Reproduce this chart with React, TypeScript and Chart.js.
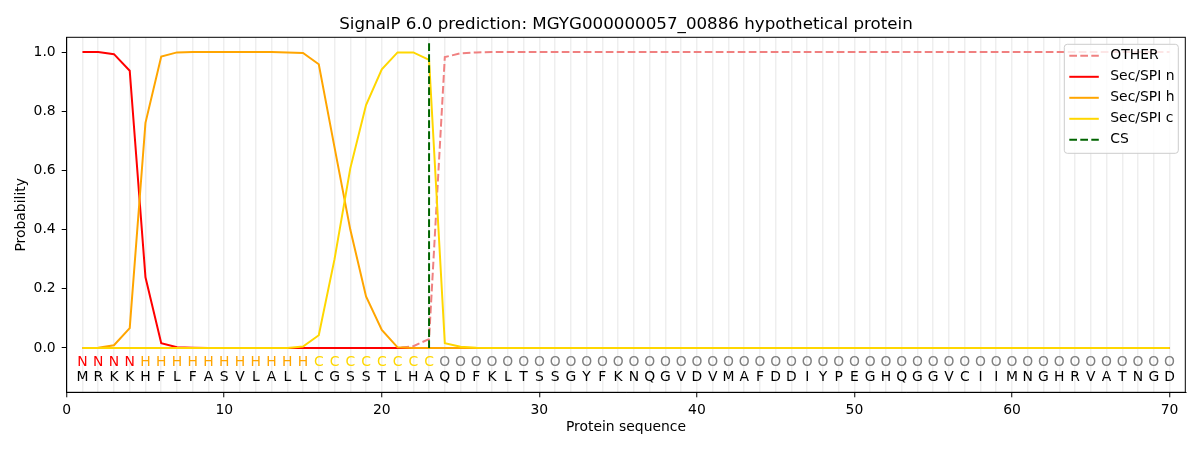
import { useEffect, useRef } from 'react';
import { Chart, registerables } from 'chart.js';

Chart.register(...registerables);

// protein sequence and per-residue predicted labels
const sequence = 'MRKKHFLFASVLALLCGSSTLHAQDFKLTSSGYFKNQGVDVMAFDDIYPEGHQGGVCIIMNGHRVATNGD'.split('');
const predicted = 'NNNNHHHHHHHHHHHCCCCCCCCOOOOOOOOOOOOOOOOOOOOOOOOOOOOOOOOOOOOOOOOOOOOOOO'.split('');
const positions = sequence.map((_, i) => i + 1);

const otherProb = [
  0, 0, 0, 0, 0, 0, 0, 0, 0, 0,
  0, 0, 0, 0, 0, 0, 0, 0, 0, 0,
  0, 0.006, 0.03, 0.983, 0.996, 0.999, 1, 1, 1, 1,
  1, 1, 1, 1, 1, 1, 1, 1, 1, 1,
  1, 1, 1, 1, 1, 1, 1, 1, 1, 1,
  1, 1, 1, 1, 1, 1, 1, 1, 1, 1,
  1, 1, 1, 1, 1, 1, 1, 1, 1, 1,
];
const nProb = [
  1.0, 1.0, 0.993, 0.937, 0.239, 0.016, 0.002, 0.001, 0, 0,
  0, 0, 0, 0, 0, 0, 0, 0, 0, 0,
  0, 0, 0, 0, 0, 0, 0, 0, 0, 0,
  0, 0, 0, 0, 0, 0, 0, 0, 0, 0,
  0, 0, 0, 0, 0, 0, 0, 0, 0, 0,
  0, 0, 0, 0, 0, 0, 0, 0, 0, 0,
  0, 0, 0, 0, 0, 0, 0, 0, 0, 0,
];
const hProb = [
  0, 0.001, 0.009, 0.067, 0.761, 0.985, 0.999, 1.0, 1.0, 1.0,
  1.0, 1.0, 1.0, 0.999, 0.997, 0.959, 0.678, 0.4, 0.174, 0.061,
  0.002, 0, 0, 0, 0, 0, 0, 0, 0, 0,
  0, 0, 0, 0, 0, 0, 0, 0, 0, 0,
  0, 0, 0, 0, 0, 0, 0, 0, 0, 0,
  0, 0, 0, 0, 0, 0, 0, 0, 0, 0,
  0, 0, 0, 0, 0, 0, 0, 0, 0, 0,
];
const cProb = [
  0, 0, 0, 0, 0, 0, 0, 0, 0, 0,
  0, 0, 0, 0, 0.005, 0.043, 0.3, 0.607, 0.821, 0.942,
  0.999, 0.999, 0.974, 0.016, 0.004, 0.001, 0, 0, 0, 0,
  0, 0, 0, 0, 0, 0, 0, 0, 0, 0,
  0, 0, 0, 0, 0, 0, 0, 0, 0, 0,
  0, 0, 0, 0, 0, 0, 0, 0, 0, 0,
  0, 0, 0, 0, 0, 0, 0, 0, 0, 0,
];
const csPos = 23;
const csRange = [0, 1.04];

const xTicks = [0, 10, 20, 30, 40, 50, 60, 70];
const yTicks = [0, 0.2, 0.4, 0.6, 0.8, 1.0];

const FONT = "'DejaVu Sans', sans-serif";
const labelColors: Record<string, string> = { N: '#ff0000', H: '#ffa500', C: '#ffd700', O: '#808080' };
const DASH = [7.7, 3.3];

const toPoints = (vals: number[]) => vals.map((v, i) => ({ x: positions[i], y: v }));

const extrasPlugin = {
  id: 'extras',
  afterDatasetsDraw(chart: any) {
    const { ctx, scales } = chart;
    const x = scales.x;
    const y = scales.y;
    ctx.save();
    ctx.font = `13.9px ${FONT}`;
    ctx.textAlign = 'center';
    ctx.textBaseline = 'middle';
    positions.forEach((p, i) => {
      const px = x.getPixelForValue(p);
      ctx.fillStyle = labelColors[predicted[i]];
      ctx.fillText(predicted[i], px, y.getPixelForValue(-0.05));
      ctx.fillStyle = '#000';
      ctx.fillText(sequence[i], px, y.getPixelForValue(-0.1));
    });
    ctx.restore();
  },
  afterDraw(chart: any) {
    const { ctx, chartArea: a } = chart;
    ctx.save();
    // frame
    ctx.strokeStyle = '#000';
    ctx.lineWidth = 1;
    ctx.strokeRect(a.left, a.top, a.right - a.left, a.bottom - a.top);

    // title
    ctx.fillStyle = '#000';
    ctx.font = `16.7px ${FONT}`;
    ctx.textAlign = 'center';
    ctx.textBaseline = 'alphabetic';
    ctx.fillText('SignalP 6.0 prediction: MGYG000000057_00886 hypothetical protein', (a.left + a.right) / 2, 29.3);

    // legend
    const bx = a.right - 121, by = a.top + 7, bw = 114, bh = 109;
    ctx.beginPath();
    ctx.roundRect(bx, by, bw, bh, 3);
    ctx.fillStyle = 'rgba(255,255,255,0.8)';
    ctx.fill();
    ctx.strokeStyle = '#cccccc';
    ctx.stroke();
    ctx.font = `13.9px ${FONT}`;
    ctx.textAlign = 'left';
    ctx.textBaseline = 'middle';
    chart.data.datasets.forEach((ds: any, i: number) => {
      const ry = by + 11.5 + i * 21;
      ctx.beginPath();
      ctx.setLineDash(ds.borderDash || []);
      ctx.strokeStyle = ds.borderColor;
      ctx.lineWidth = 2;
      ctx.moveTo(bx + 5, ry);
      ctx.lineTo(bx + 34.5, ry);
      ctx.stroke();
      ctx.setLineDash([]);
      ctx.fillStyle = '#000';
      ctx.fillText(ds.label, bx + 46, ry);
    });
    ctx.restore();
  },
};

const SignalPChart = () => {
  const canvasRef = useRef<HTMLCanvasElement>(null);

  useEffect(() => {
    if (!canvasRef.current) return;
    const line = { pointRadius: 0, borderWidth: 2, tension: 0, fill: false };
    // higher order = drawn first (underneath), like matplotlib's plot order
    const chart = new Chart(canvasRef.current, {
      type: 'line',
      data: {
        datasets: [
          { ...line, order: 5, label: 'OTHER', data: toPoints(otherProb), borderColor: '#f08080', borderDash: DASH },
          { ...line, order: 4, label: 'Sec/SPI n', data: toPoints(nProb), borderColor: '#ff0000' },
          { ...line, order: 3, label: 'Sec/SPI h', data: toPoints(hProb), borderColor: '#ffa500' },
          { ...line, order: 2, label: 'Sec/SPI c', data: toPoints(cProb), borderColor: '#ffd700' },
          {
            ...line,
            order: 1,
            label: 'CS',
            data: csRange.map((v) => ({ x: csPos, y: v })),
            borderColor: '#006400',
            borderDash: DASH,
          },
        ],
      },
      options: {
        responsive: false,
        animation: false,
        events: [],
        layout: { padding: { left: 0, right: 14.7, top: 37.3, bottom: 0 } },
        plugins: { legend: { display: false }, title: { display: false }, tooltip: { enabled: false } },
        scales: {
          x: {
            type: 'linear',
            min: 0,
            max: 71,
            afterBuildTicks: (scale: any) => {
              scale.ticks = [0, ...positions].map((v) => ({ value: v }));
            },
            afterFit: (scale: any) => {
              scale.height = 57.7;
            },
            ticks: {
              autoSkip: false,
              maxRotation: 0,
              padding: 4.5,
              color: '#000',
              font: { family: FONT, size: 13.9 },
              callback: (v: any) => (xTicks.includes(v) ? String(v) : ''),
            },
            grid: {
              color: (c: any) => (c.tick && c.tick.value >= 1 && c.tick.value <= 70 ? 'rgba(0,0,0,0.065)' : 'transparent'),
              lineWidth: 1.5,
              tickLength: 5,
              tickColor: (c: any) => (c.tick && xTicks.includes(c.tick.value) ? '#000' : 'transparent'),
              tickWidth: 1,
            },
            border: { display: true, color: '#000', width: 1 },
            title: {
              display: true,
              text: 'Protein sequence',
              color: '#000',
              font: { family: FONT, size: 13.9 },
              padding: { top: 0, bottom: 14.7 },
            },
          },
          y: {
            type: 'linear',
            min: -0.15,
            max: 1.05,
            afterBuildTicks: (scale: any) => {
              scale.ticks = yTicks.map((v) => ({ value: v }));
            },
            afterFit: (scale: any) => {
              scale.width = 66.7;
            },
            ticks: {
              padding: 6,
              color: '#000',
              font: { family: FONT, size: 13.9 },
              callback: (v: any) => Number(v).toFixed(1),
            },
            grid: { drawOnChartArea: false, tickLength: 5, tickColor: '#000', tickWidth: 1 },
            border: { display: true, color: '#000', width: 1 },
            title: {
              display: true,
              text: 'Probability',
              color: '#000',
              font: { family: FONT, size: 13.9 },
              padding: { top: 13.5, bottom: 0 },
            },
          },
        },
      },
      plugins: [extrasPlugin],
    });
    return () => {
      chart.destroy();
    };
  }, []);

  return (
    <div style={{ position: 'absolute', left: 0, top: 0, width: 1200, height: 450, background: '#fff' }}>
      <canvas ref={canvasRef} width={1200} height={450}></canvas>
    </div>
  );
};

export default function App() {
  return <SignalPChart />;
}
